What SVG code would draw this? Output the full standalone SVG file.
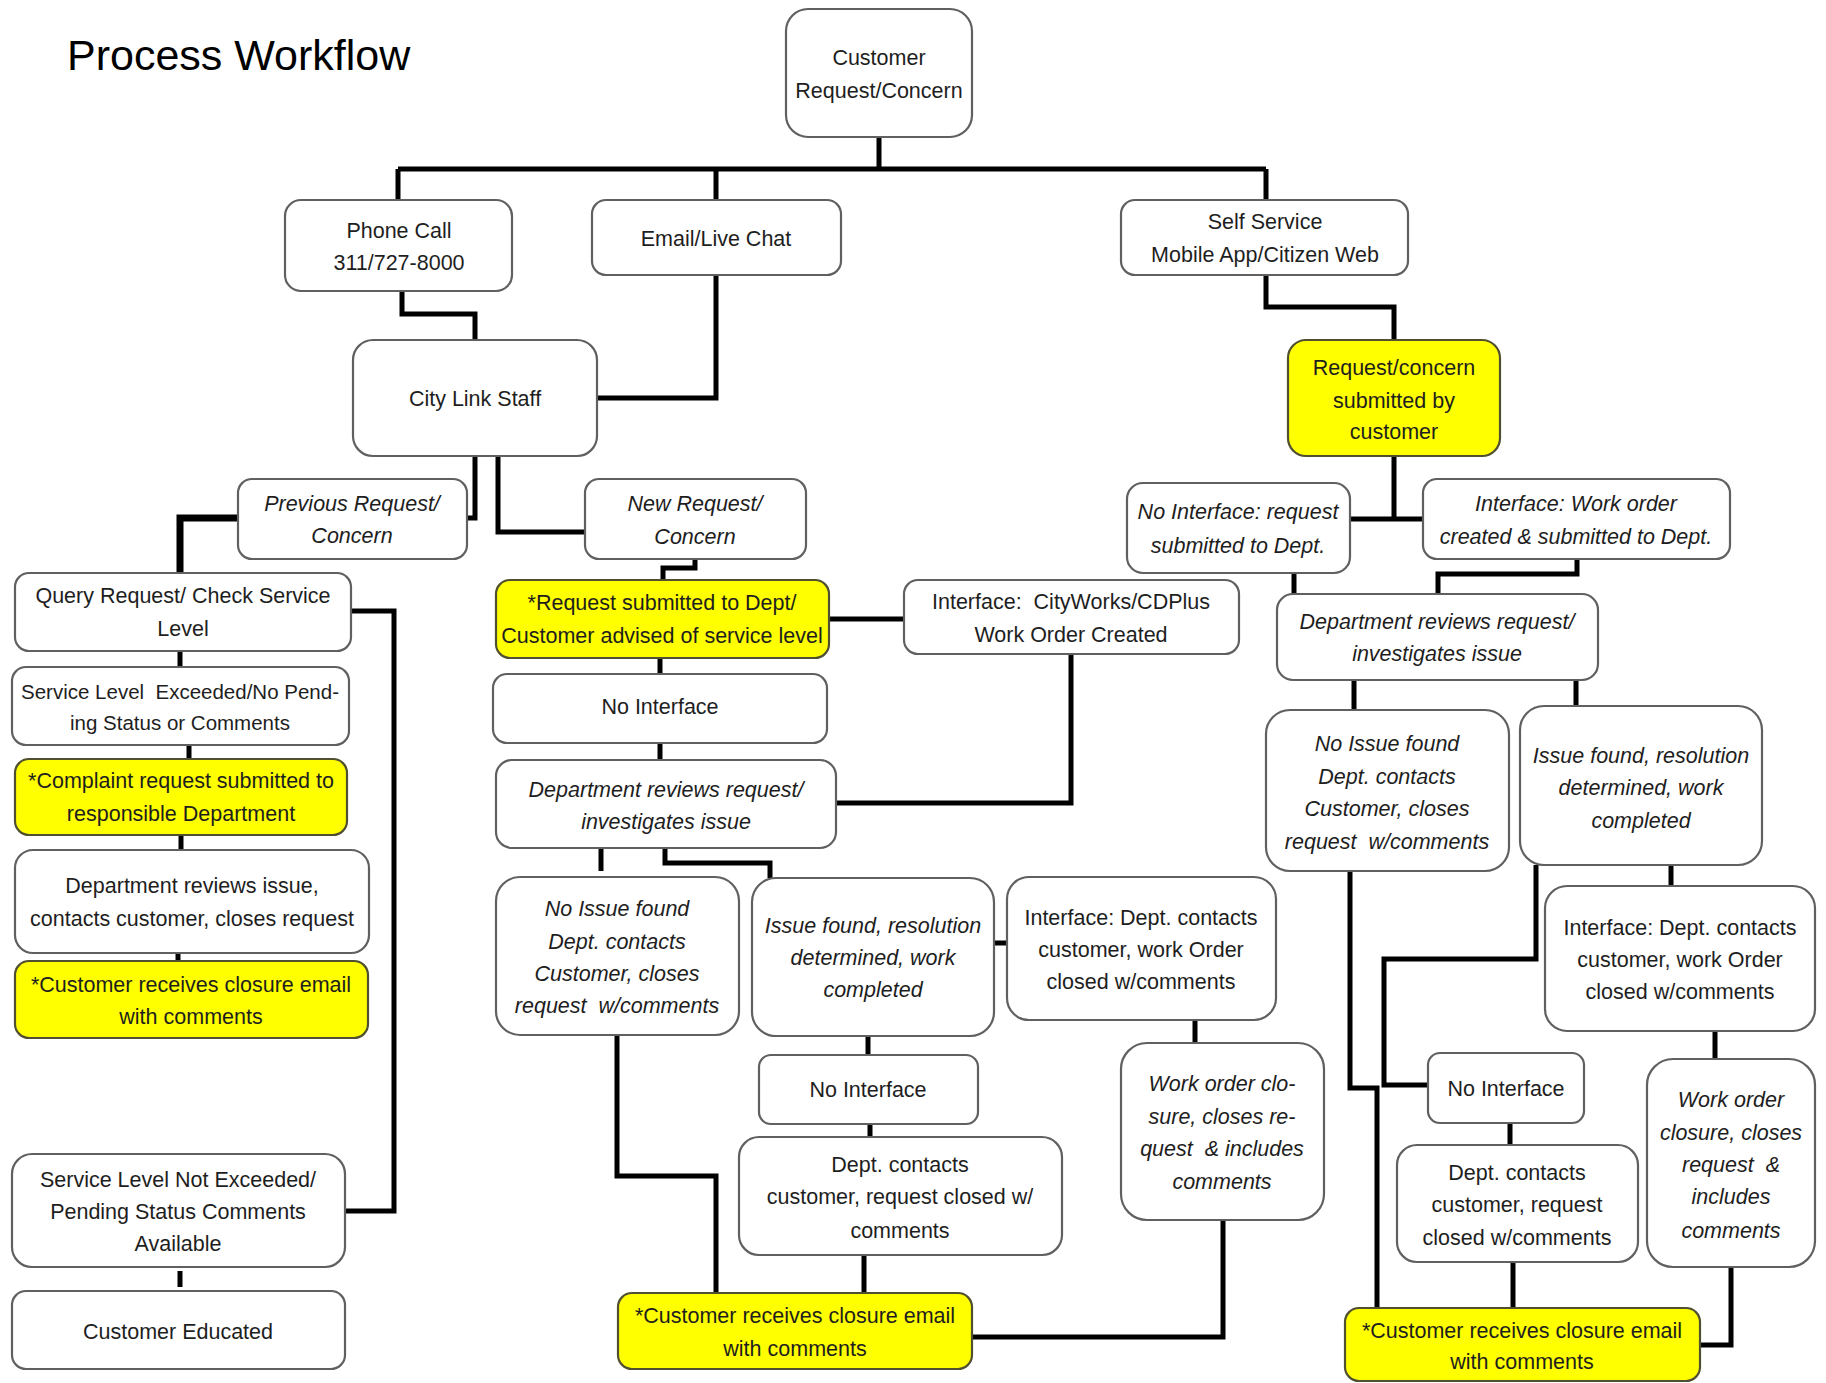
<svg xmlns="http://www.w3.org/2000/svg" width="1826" height="1383" viewBox="0 0 1826 1383">
<style>
.bx{fill:#fff;stroke:#606060;stroke-width:2.2}
.yl{fill:#ffff00;stroke:#505030;stroke-width:2.2}
.t{font-family:"Liberation Sans",Arial,sans-serif;font-size:21.5px;fill:#1e1e1e;text-anchor:middle}
.i{font-style:italic}
.c{fill:none;stroke:#000;stroke-width:5;stroke-linejoin:miter}
.title{font-family:"Liberation Sans",Arial,sans-serif;font-size:43px;fill:#000}
</style>
<rect width="1826" height="1383" fill="#fff"/>
<text class="title" x="67" y="70">Process Workflow</text>
<g id="connectors">
<path class="c" d="M879,137V169M398,169H1266M398,169V200M716,169V200M1266,169V200"/>
<path class="c" d="M402,291V314H475V340"/>
<path class="c" d="M716,275V398H597"/>
<path class="c" d="M1266,275V307H1394V340"/>
<path class="c" d="M475,456V518H467"/>
<path class="c" d="M498,456V532H585"/>
<path class="c" style="stroke-width:7" d="M238,518H180V573"/>
<path class="c" d="M695,559V568H663V580"/>
<path class="c" d="M829,619H904"/>
<path class="c" d="M660,658V674"/>
<path class="c" d="M660,743V760"/>
<path class="c" d="M1071,654V803H836"/>
<path class="c" d="M601,848V871"/>
<path class="c" d="M665,848V863H770V878"/>
<path class="c" d="M994,943H1007"/>
<path class="c" d="M868,1036V1055"/>
<path class="c" d="M870,1124V1137"/>
<path class="c" d="M864,1255V1293"/>
<path class="c" d="M617,1035V1176H716V1293"/>
<path class="c" d="M1195,1020V1043"/>
<path class="c" d="M1223,1220V1337H972"/>
<path class="c" d="M351,611H394V1211H345"/>
<path class="c" d="M180,651V667"/>
<path class="c" d="M189,745V759"/>
<path class="c" d="M181,835V850"/>
<path class="c" d="M178,953V961"/>
<path class="c" d="M180,1271V1287"/>
<path class="c" d="M1394,456V519M1350,519H1423"/>
<path class="c" d="M1577,559V574H1438V594"/>
<path class="c" d="M1294,573V594"/>
<path class="c" d="M1354,680V710M1576,680V706"/>
<path class="c" d="M1350,871V1088H1377V1308"/>
<path class="c" d="M1536,865V959H1384V1085H1428"/>
<path class="c" d="M1671,865V886"/>
<path class="c" d="M1715,1031V1059"/>
<path class="c" d="M1510,1123V1145"/>
<path class="c" d="M1513,1262V1308"/>
<path class="c" d="M1731,1267V1345H1700"/>
</g>
<g id="n1"><rect class="bx" x="786" y="9" width="186" height="128" rx="22"/><text class="t"><tspan x="879" y="65">Customer</tspan><tspan x="879" y="98">Request/Concern</tspan></text></g>
<g id="n2"><rect class="bx" x="285" y="200" width="227" height="91" rx="16"/><text class="t"><tspan x="399" y="238">Phone Call</tspan><tspan x="399" y="270">311/727-8000</tspan></text></g>
<g id="n3"><rect class="bx" x="592" y="200" width="249" height="75" rx="14"/><text class="t" x="716" y="246">Email/Live Chat</text></g>
<g id="n4"><rect class="bx" x="1121" y="200" width="287" height="75" rx="14"/><text class="t"><tspan x="1265" y="229">Self Service</tspan><tspan x="1265" y="262">Mobile App/Citizen Web</tspan></text></g>
<g id="n5"><rect class="bx" x="353" y="340" width="244" height="116" rx="20"/><text class="t" x="475" y="406">City Link Staff</text></g>
<g id="n6"><rect class="yl" x="1288" y="340" width="212" height="116" rx="18"/><text class="t"><tspan x="1394" y="375">Request/concern</tspan><tspan x="1394" y="408">submitted by</tspan><tspan x="1394" y="439">customer</tspan></text></g>
<g id="n7"><rect class="bx" x="238" y="479" width="229" height="80" rx="14"/><text class="t i"><tspan x="352" y="511">Previous Request/</tspan><tspan x="352" y="543">Concern</tspan></text></g>
<g id="n8"><rect class="bx" x="585" y="479" width="221" height="80" rx="14"/><text class="t i"><tspan x="695" y="511">New Request/</tspan><tspan x="695" y="544">Concern</tspan></text></g>
<g id="n9"><rect class="bx" x="1127" y="483" width="223" height="90" rx="16"/><text class="t i"><tspan x="1238" y="519">No Interface: request</tspan><tspan x="1238" y="553">submitted to Dept.</tspan></text></g>
<g id="n10"><rect class="bx" x="1423" y="479" width="307" height="80" rx="14"/><text class="t i"><tspan x="1576" y="511">Interface: Work order</tspan><tspan x="1576" y="544">created &amp; submitted to Dept.</tspan></text></g>
<g id="n11"><rect class="bx" x="15" y="573" width="336" height="78" rx="14"/><text class="t"><tspan x="183" y="603">Query Request/ Check Service</tspan><tspan x="183" y="636">Level</tspan></text></g>
<g id="n12"><rect class="yl" x="496" y="580" width="333" height="78" rx="14"/><text class="t"><tspan x="662" y="610">*Request submitted to Dept/</tspan><tspan x="662" y="643">Customer advised of service level</tspan></text></g>
<g id="n13"><rect class="bx" x="904" y="580" width="335" height="74" rx="14"/><text class="t"><tspan x="1071" y="609">Interface:&#160; CityWorks/CDPlus</tspan><tspan x="1071" y="642">Work Order Created</tspan></text></g>
<g id="n14"><rect class="bx" x="1277" y="594" width="321" height="86" rx="16"/><text class="t i"><tspan x="1437" y="629">Department reviews request/</tspan><tspan x="1437" y="661">investigates issue</tspan></text></g>
<g id="n15"><rect class="bx" x="12" y="667" width="337" height="78" rx="14"/><text class="t" style="font-size:20.5px"><tspan x="180" y="699">Service Level&#160; Exceeded/No Pend-</tspan><tspan x="180" y="730">ing Status or Comments</tspan></text></g>
<g id="n16"><rect class="bx" x="493" y="674" width="334" height="69" rx="14"/><text class="t" x="660" y="714">No Interface</text></g>
<g id="n17"><rect class="yl" x="15" y="759" width="332" height="76" rx="14"/><text class="t"><tspan x="181" y="788">*Complaint request submitted to</tspan><tspan x="181" y="821">responsible Department</tspan></text></g>
<g id="n18"><rect class="bx" x="496" y="760" width="340" height="88" rx="16"/><text class="t i"><tspan x="666" y="797">Department reviews request/</tspan><tspan x="666" y="829">investigates issue</tspan></text></g>
<g id="n19"><rect class="bx" x="1266" y="710" width="243" height="161" rx="24"/><text class="t i"><tspan x="1387" y="751">No Issue found</tspan><tspan x="1387" y="784">Dept. contacts</tspan><tspan x="1387" y="816">Customer, closes</tspan><tspan x="1387" y="849">request&#160; w/comments</tspan></text></g>
<g id="n20"><rect class="bx" x="1520" y="706" width="242" height="159" rx="24"/><text class="t i"><tspan x="1641" y="763">Issue found, resolution</tspan><tspan x="1641" y="795">determined, work</tspan><tspan x="1641" y="828">completed</tspan></text></g>
<g id="n21"><rect class="bx" x="15" y="850" width="354" height="103" rx="18"/><text class="t"><tspan x="192" y="893">Department reviews issue,</tspan><tspan x="192" y="926">contacts customer, closes request</tspan></text></g>
<g id="n22"><rect class="bx" x="496" y="877" width="243" height="158" rx="24"/><text class="t i"><tspan x="617" y="916">No Issue found</tspan><tspan x="617" y="949">Dept. contacts</tspan><tspan x="617" y="981">Customer, closes</tspan><tspan x="617" y="1013">request&#160; w/comments</tspan></text></g>
<g id="n23"><rect class="bx" x="752" y="878" width="242" height="158" rx="24"/><text class="t i"><tspan x="873" y="933">Issue found, resolution</tspan><tspan x="873" y="965">determined, work</tspan><tspan x="873" y="997">completed</tspan></text></g>
<g id="n24"><rect class="bx" x="1007" y="877" width="269" height="143" rx="22"/><text class="t"><tspan x="1141" y="925">Interface: Dept. contacts</tspan><tspan x="1141" y="957">customer, work Order</tspan><tspan x="1141" y="989">closed w/comments</tspan></text></g>
<g id="n25"><rect class="bx" x="1545" y="886" width="270" height="145" rx="22"/><text class="t"><tspan x="1680" y="935">Interface: Dept. contacts</tspan><tspan x="1680" y="967">customer, work Order</tspan><tspan x="1680" y="999">closed w/comments</tspan></text></g>
<g id="n26"><rect class="yl" x="15" y="961" width="353" height="77" rx="14"/><text class="t"><tspan x="191" y="992">*Customer receives closure email</tspan><tspan x="191" y="1024">with comments</tspan></text></g>
<g id="n27"><rect class="bx" x="759" y="1055" width="219" height="69" rx="12"/><text class="t" x="868" y="1097">No Interface</text></g>
<g id="n28"><rect class="bx" x="1121" y="1043" width="203" height="177" rx="26"/><text class="t i"><tspan x="1222" y="1091">Work order clo-</tspan><tspan x="1222" y="1124">sure, closes re-</tspan><tspan x="1222" y="1156">quest&#160; &amp; includes</tspan><tspan x="1222" y="1189">comments</tspan></text></g>
<g id="n29"><rect class="bx" x="1428" y="1053" width="156" height="70" rx="12"/><text class="t" x="1506" y="1096">No Interface</text></g>
<g id="n30"><rect class="bx" x="1647" y="1059" width="168" height="208" rx="26"/><text class="t i"><tspan x="1731" y="1107">Work order</tspan><tspan x="1731" y="1140">closure, closes</tspan><tspan x="1731" y="1172">request&#160; &amp;</tspan><tspan x="1731" y="1204">includes</tspan><tspan x="1731" y="1238">comments</tspan></text></g>
<g id="n31"><rect class="bx" x="739" y="1137" width="323" height="118" rx="20"/><text class="t"><tspan x="900" y="1172">Dept. contacts</tspan><tspan x="900" y="1204">customer, request closed w/</tspan><tspan x="900" y="1238">comments</tspan></text></g>
<g id="n32"><rect class="bx" x="1397" y="1145" width="241" height="117" rx="20"/><text class="t"><tspan x="1517" y="1180">Dept. contacts</tspan><tspan x="1517" y="1212">customer, request</tspan><tspan x="1517" y="1245">closed w/comments</tspan></text></g>
<g id="n33"><rect class="bx" x="12" y="1154" width="333" height="113" rx="20"/><text class="t"><tspan x="178" y="1187">Service Level Not Exceeded/</tspan><tspan x="178" y="1219">Pending Status Comments</tspan><tspan x="178" y="1251">Available</tspan></text></g>
<g id="n34"><rect class="bx" x="12" y="1291" width="333" height="78" rx="14"/><text class="t" x="178" y="1339">Customer Educated</text></g>
<g id="n35"><rect class="yl" x="618" y="1293" width="354" height="76" rx="14"/><text class="t"><tspan x="795" y="1323">*Customer receives closure email</tspan><tspan x="795" y="1356">with comments</tspan></text></g>
<g id="n36"><rect class="yl" x="1345" y="1308" width="355" height="73" rx="14"/><text class="t"><tspan x="1522" y="1338">*Customer receives closure email</tspan><tspan x="1522" y="1369">with comments</tspan></text></g>
</svg>
